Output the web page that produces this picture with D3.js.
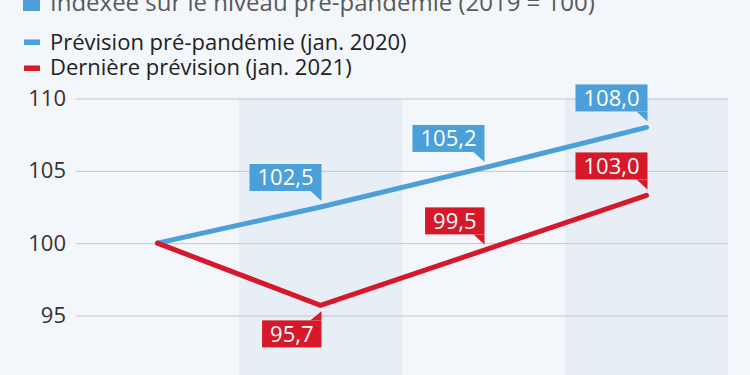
<!DOCTYPE html>
<html>
<head>
<meta charset="utf-8">
<script src="https://cdn.jsdelivr.net/npm/d3@7"></script>
<style>
  html, body { margin: 0; padding: 0; background: #f3f6fa; }
  svg { display: block; font-family: "Open Sans", sans-serif; }
</style>
</head>
<body>
<svg id="chart" width="750" height="375"></svg>
<script>
var years = ["2019", "2020", "2021", "2022"];
var prePandemic = [100, 102.5, 105.2, 108.0];
var latest = [100, 95.7, 99.5, 103.3];
var preLabels = [null, "102,5", "105,2", "108,0"];
var latestLabels = [null, "95,7", "99,5", "103,0"];
var latestBelow = [false, true, false, false];
var yTicks = [95, 100, 105, 110];

var blue = "#4ba0d9";
var red = "#d7182a";

var svg = d3.select("#chart");
var w = 750, h = 375;

svg.append("rect").attr("width", w).attr("height", h).attr("fill", "#f3f6fa");

var x = d3.scaleBand().domain(years).range([76, 728]).padding(0);
var y = d3.scaleLinear().domain([95, 110]).range([315.5, 98.5]);

// shaded columns, starting at the top gridline
svg.selectAll("rect.band")
    .data(years.filter(function(d, i) { return i % 2 == 1; }))
    .enter().append("rect")
    .attr("class", "band")
    .attr("x", function(d) { return x(d); })
    .attr("y", y(110))
    .attr("width", x.bandwidth())
    .attr("height", h - y(110))
    .attr("fill", "#e8eef6");

// gridlines + tick labels
var yAxis = d3.axisLeft(y).tickValues(yTicks).tickSize(-(728 - 76)).tickPadding(10);
var g = svg.append("g").attr("transform", "translate(76,0)").call(yAxis);
g.select(".domain").remove();
g.selectAll(".tick line").attr("stroke", "#c2c6cc").attr("stroke-width", 1);
g.selectAll(".tick text")
    .attr("fill", "#333")
    .style("font-size", "22px")
    .style("font-family", "'Open Sans', sans-serif");

// title (cut off at top) and legend
svg.append("rect").attr("x", 23).attr("y", -6).attr("width", 17).attr("height", 17).attr("fill", blue);
svg.append("text").attr("x", 50).attr("y", 10.5)
    .attr("fill", "#5a5a5a").style("font-size", "24px")
    .text("Indexée sur le niveau pré-pandémie (2019 = 100)");

var legend = [
    { label: "Prévision pré-pandémie (jan. 2020)", color: blue },
    { label: "Dernière prévision (jan. 2021)", color: red }
];
legend.forEach(function(d, i) {
    svg.append("rect").attr("x", 24).attr("y", 39.5 + i * 26).attr("width", 16).attr("height", 5.5).attr("fill", d.color);
    svg.append("text").attr("x", 50).attr("y", 50 + i * 25)
        .attr("fill", "#222").style("font-size", "22px").text(d.label);
});

function cx(i) { return x(years[i]) + x.bandwidth() / 2; }

var line = d3.line()
    .x(function(d, i) { return cx(i); })
    .y(function(d) { return y(d); });

[[prePandemic, blue], [latest, red]].forEach(function(s) {
    svg.append("path")
        .attr("d", line(s[0]))
        .attr("fill", "none")
        .attr("stroke", s[1])
        .attr("stroke-width", 5)
        .attr("stroke-linecap", "round")
        .attr("stroke-linejoin", "miter");
});

function addLabel(i, v, txt, color, below) {
    if (!txt) return;
    var px = cx(i) + 1, py = y(v);
    var grp = svg.append("g");
    var t = grp.append("text").attr("fill", "#fff").style("font-size", "22px").attr("text-anchor", "middle").text(txt);
    var tw = t.node().getComputedTextLength();
    var bw = tw + 16, bh = 27;
    var right = px, left = px - bw;
    var top = below ? py + 15 : py - 16 - bh;
    var tri;
    if (below) {
        tri = [[right - 11, top], [right, top], [right, top - 9]];
    } else {
        tri = [[right - 11, top + bh], [right, top + bh], [right, top + bh + 10]];
    }
    grp.insert("rect", "text").attr("x", left).attr("y", top).attr("width", bw).attr("height", bh).attr("fill", color);
    grp.insert("path", "text").attr("d", "M" + tri.join("L") + "Z").attr("fill", color);
    t.attr("x", left + bw / 2).attr("y", top + bh / 2).attr("dy", "0.36em");
}

prePandemic.forEach(function(v, i) { addLabel(i, v, preLabels[i], blue, false); });
latest.forEach(function(v, i) { addLabel(i, v, latestLabels[i], red, latestBelow[i]); });
</script>
</body>
</html>
